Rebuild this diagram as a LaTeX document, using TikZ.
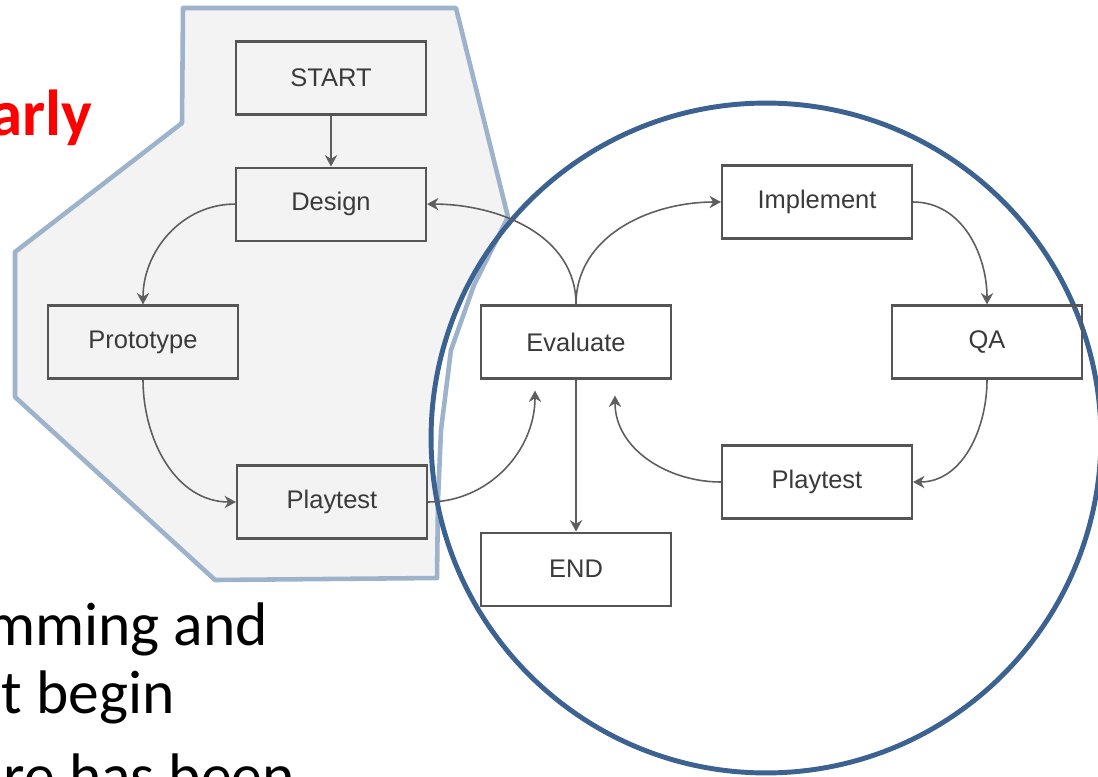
\documentclass[tikz,border=0pt]{standalone}
\usepackage{fontspec}
\newfontfamily\boxfont{Liberation Sans}
\newfontfamily\slidefont{Carlito}
\usetikzlibrary{arrows.meta,positioning}
\definecolor{hullfill}{HTML}{F3F3F3}
\definecolor{hulledge}{HTML}{9DB2CB}
\definecolor{ringblue}{HTML}{3B6290}
\definecolor{boxgray}{HTML}{555555}
\definecolor{flowgray}{HTML}{5E5E5E}
\definecolor{labelgray}{HTML}{3A3A3A}
\tikzset{
  >={Stealth[length=6.5pt,width=7pt]},
  stage/.style={draw=boxgray,line width=1.2pt,minimum width=3.8cm,minimum height=1.46cm,inner sep=0pt,
    text=labelgray,font=\boxfont\fontsize{14.5}{17}\selectfont},
  flow/.style={->,line width=0.9pt,flowgray},
  slide/.style={inner sep=0pt,font=\slidefont\fontsize{35}{38}\selectfont},
}

\begin{document}
\begin{tikzpicture}[x=0.02cm,y=0.02cm]
	\useasboundingbox (0,0) rectangle (1098,-777);

	% grey hull round the early loop
	\coordinate (h1) at (183,-8);
	\coordinate (h2) at (456,-8);
	\coordinate (h3) at (508,-217);
	\coordinate (h4) at (474,-285);
	\coordinate (h5) at (451,-350);
	\coordinate (h6) at (441,-430);
	\coordinate (h7) at (438,-500);
	\coordinate (h8) at (437,-578);
	\coordinate (h9) at (215,-580);
	\coordinate (h10) at (15,-397);
	\coordinate (h11) at (15,-252);
	\coordinate (h12) at (182,-123);
	\fill[hullfill] (h1) -- (h2) -- (h3) -- (h4) -- (h5) -- (h6) -- (h7) -- (h8) -- (h9) -- (h10) -- (h11) -- (h12) -- cycle;

	% ring round the late loop
	\coordinate (ring) at (766,-438);
	\fill[white] (ring) circle [radius=6.7cm];
	\draw[hulledge,line width=2.6pt,line join=round] (h1) -- (h2) -- (h3) -- (h4) -- (h5) -- (h6) -- (h7) -- (h8) -- (h9) -- (h10) -- (h11) -- (h12) -- cycle;
	\draw[ringblue,line width=2.8pt] (ring) circle [radius=6.7cm];

	% slide text, cut by the page edge
	\node[slide,font=\slidefont\bfseries\fontsize{37}{40}\selectfont,text=red,anchor=base east] (early) at (93,-135) {arly};
	\node[slide,anchor=base east] (line1) at (268,-645) {mming and};
	\node[slide,anchor=base east] (line2) at (175,-713) {t begin};
	\node[slide,anchor=base east] (line3) at (295,-796) {re has been};

	% stages
	\node[stage] (start) at (331,-78) {START};
	\node[stage, below=1.02cm of start] (design) {Design};
	\node[stage] (proto) at (143,-342) {Prototype};
	\node[stage] (playL) at (332,-502) {Playtest};
	\node[stage] (eval) at (576,-342) {Evaluate};
	\node[stage, below=3.04cm of eval] (end) {END};
	\node[stage] (impl) at (817,-202) {Implement};
	\node[stage] (qa) at (987,-342) {QA};
	\node[stage] (playR) at (817,-482) {Playtest};

	\coordinate (evalL) at ([xshift=-0.82cm,yshift=-0.22cm]eval.south);
	\coordinate (evalR) at ([xshift=0.78cm,yshift=-0.32cm]eval.south);

	\draw[flow] (start) -- (design);
	\draw[flow] (design.west) to[out=180,in=90] (proto.north);
	\draw[flow] (proto.south) to[out=-90,in=180] (playL.west);
	\draw[flow] (playL.east) to[out=0,in=-90] (evalL);
	\draw[flow] (eval.north) to[out=90,in=0] (design.east);
	\draw[flow] (eval.north) to[out=90,in=180] (impl.west);
	\draw[flow] (impl.east) to[out=0,in=90] (qa.north);
	\draw[flow] (qa.south) to[out=-90,in=0] (playR.east);
	\draw[flow] (playR.west) to[out=180,in=-90] (evalR);
	\draw[flow] (eval.south) -- (end.north);
\end{tikzpicture}
\end{document}
